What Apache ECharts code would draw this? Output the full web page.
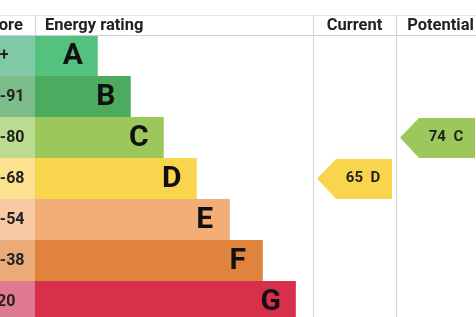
<!DOCTYPE html>
<html><head><meta charset="utf-8">
<script src="https://cdn.jsdelivr.net/npm/echarts/dist/echarts.min.js"></script>
<style>html,body{margin:0;padding:0;background:#fff;overflow:hidden}#c{width:476px;height:317px}</style>
</head><body><div id="c"></div>
<script>
const bands = ['A','B','C','D','E','F','G'];
const scoreRanges = ['92+','81-91','69-80','55-68','39-54','21-38','1-20'];
const barLengths = [19,29,39,49,59,69,79];
const barColors = ['#55c17f','#4dab5f','#9cc75a','#f8d54c','#f2ae76','#e0833c','#d8304a'];
const scoreColors = ['#80c9a6','#7dbd8c','#badb90','#fce28e','#f7caa4','#e9ab7a','#e07a90'];
const currentScore = 65, currentBand = 'D';
const potentialScore = 74, potentialBand = 'C';
const headers = ['Score','Energy rating','Current','Potential'];

const FONT = 'Roboto, "Liberation Sans", sans-serif';
const chart = echarts.init(document.getElementById('c'), null, {renderer:'canvas'});

const rowTop = 35;
const gridBase = {top:rowTop, height:287, outerBoundsMode:'none', containLabel:false};
const grids = [
  Object.assign({left:-35, width:70}, gridBase),
  Object.assign({left:35, width:278}, gridBase),
  Object.assign({left:313, width:83}, gridBase),
  Object.assign({left:396, width:83}, gridBase)
];
const xAxes = [
  {gridIndex:0, type:'value', min:0, max:1, show:false},
  {gridIndex:1, type:'value', min:0, max:84.2, show:false},
  {gridIndex:2, type:'value', min:0, max:1, show:false},
  {gridIndex:3, type:'value', min:0, max:1, show:false}
];
const yAxes = grids.map((g,i)=>({gridIndex:i, type:'category', data:bands, inverse:true, show:false}));

function arrowRender(params, api){
  const cat = api.value(1);
  const p0 = api.coord([0, cat]);
  const p1 = api.coord([1, cat]);
  const h = api.size([0,1])[1];
  const c = p0[1];
  const x0 = p0[0]+4, x1 = p1[0]-4;
  const yT = c - h/2 + 1, yB = c + h/2;
  const tip = 19;
  const color = barColors[bands.indexOf(params.seriesIndex===2?currentBand:potentialBand)];
  return {type:'group', children:[
    {type:'polygon', shape:{points:[[x0,c],[x0+tip,yT],[x1,yT],[x1,yB],[x0+tip,yB]]}, style:{fill:color}},
    {type:'text', x:(x0+tip+x1)/2-1, y:c, style:{text: api.value(2)+'  '+bands[cat], fill:'#222', font:'bold 15px '+FONT, align:'center', verticalAlign:'middle'}}
  ]};
}

const lineC = '#d4d4d4';
const HF = 'bold 16.5px '+FONT;
chart.setOption({
  animation:false,
  grid:grids, xAxis:xAxes, yAxis:yAxes,
  graphic:[
    {type:'line', shape:{x1:0,y1:15.5,x2:476,y2:15.5}, style:{stroke:'#e6e6e6', lineWidth:1}, z:10},
    {type:'line', shape:{x1:0,y1:35.5,x2:476,y2:35.5}, style:{stroke:'#cfcfcf', lineWidth:1}, z:10},
    {type:'line', shape:{x1:35.5,y1:15,x2:35.5,y2:35}, style:{stroke:lineC, lineWidth:1}, z:10},
    {type:'line', shape:{x1:313.5,y1:15,x2:313.5,y2:317}, style:{stroke:lineC, lineWidth:1}, z:10},
    {type:'line', shape:{x1:396.5,y1:15,x2:396.5,y2:317}, style:{stroke:lineC, lineWidth:1}, z:10},
    {type:'text', x:-20, y:26, style:{text:headers[0], font:HF, fill:'#222', align:'left', verticalAlign:'middle'}, z:10},
    {type:'text', x:45, y:26, style:{text:headers[1], font:HF, fill:'#222', align:'left', verticalAlign:'middle'}, z:10},
    {type:'text', x:354.5, y:26, style:{text:headers[2], font:HF, fill:'#222', align:'center', verticalAlign:'middle'}, z:10},
    {type:'text', x:440.5, y:26, style:{text:headers[3], font:HF, fill:'#222', align:'center', verticalAlign:'middle'}, z:10}
  ],
  series:[
    {type:'bar', xAxisIndex:0, yAxisIndex:0, barWidth:'100%',
     data: bands.map((b,i)=>({value:1, itemStyle:{color:scoreColors[i]}})),
     label:{show:true, position:[16.5,'50%'], align:'left', verticalAlign:'middle',
            formatter:p=>scoreRanges[p.dataIndex], fontWeight:'bold', fontSize:16, fontFamily:FONT, color:'#222'}},
    {type:'bar', xAxisIndex:1, yAxisIndex:1, barWidth:'100%',
     data: barLengths.map((v,i)=>({value:v, itemStyle:{color:barColors[i]}})),
     label:{show:true, position:'insideRight', distance:25, align:'center', verticalAlign:'middle', offset:[0,1],
            formatter:p=>bands[p.dataIndex], fontWeight:'bold', fontSize:30, fontFamily:FONT, color:'#111'}},
    {type:'custom', xAxisIndex:2, yAxisIndex:2, renderItem:arrowRender, encode:{x:0,y:1},
     data:[[0, currentBand, currentScore]]},
    {type:'custom', xAxisIndex:3, yAxisIndex:3, renderItem:arrowRender, encode:{x:0,y:1},
     data:[[0, potentialBand, potentialScore]]}
  ]
});
</script></body></html>
